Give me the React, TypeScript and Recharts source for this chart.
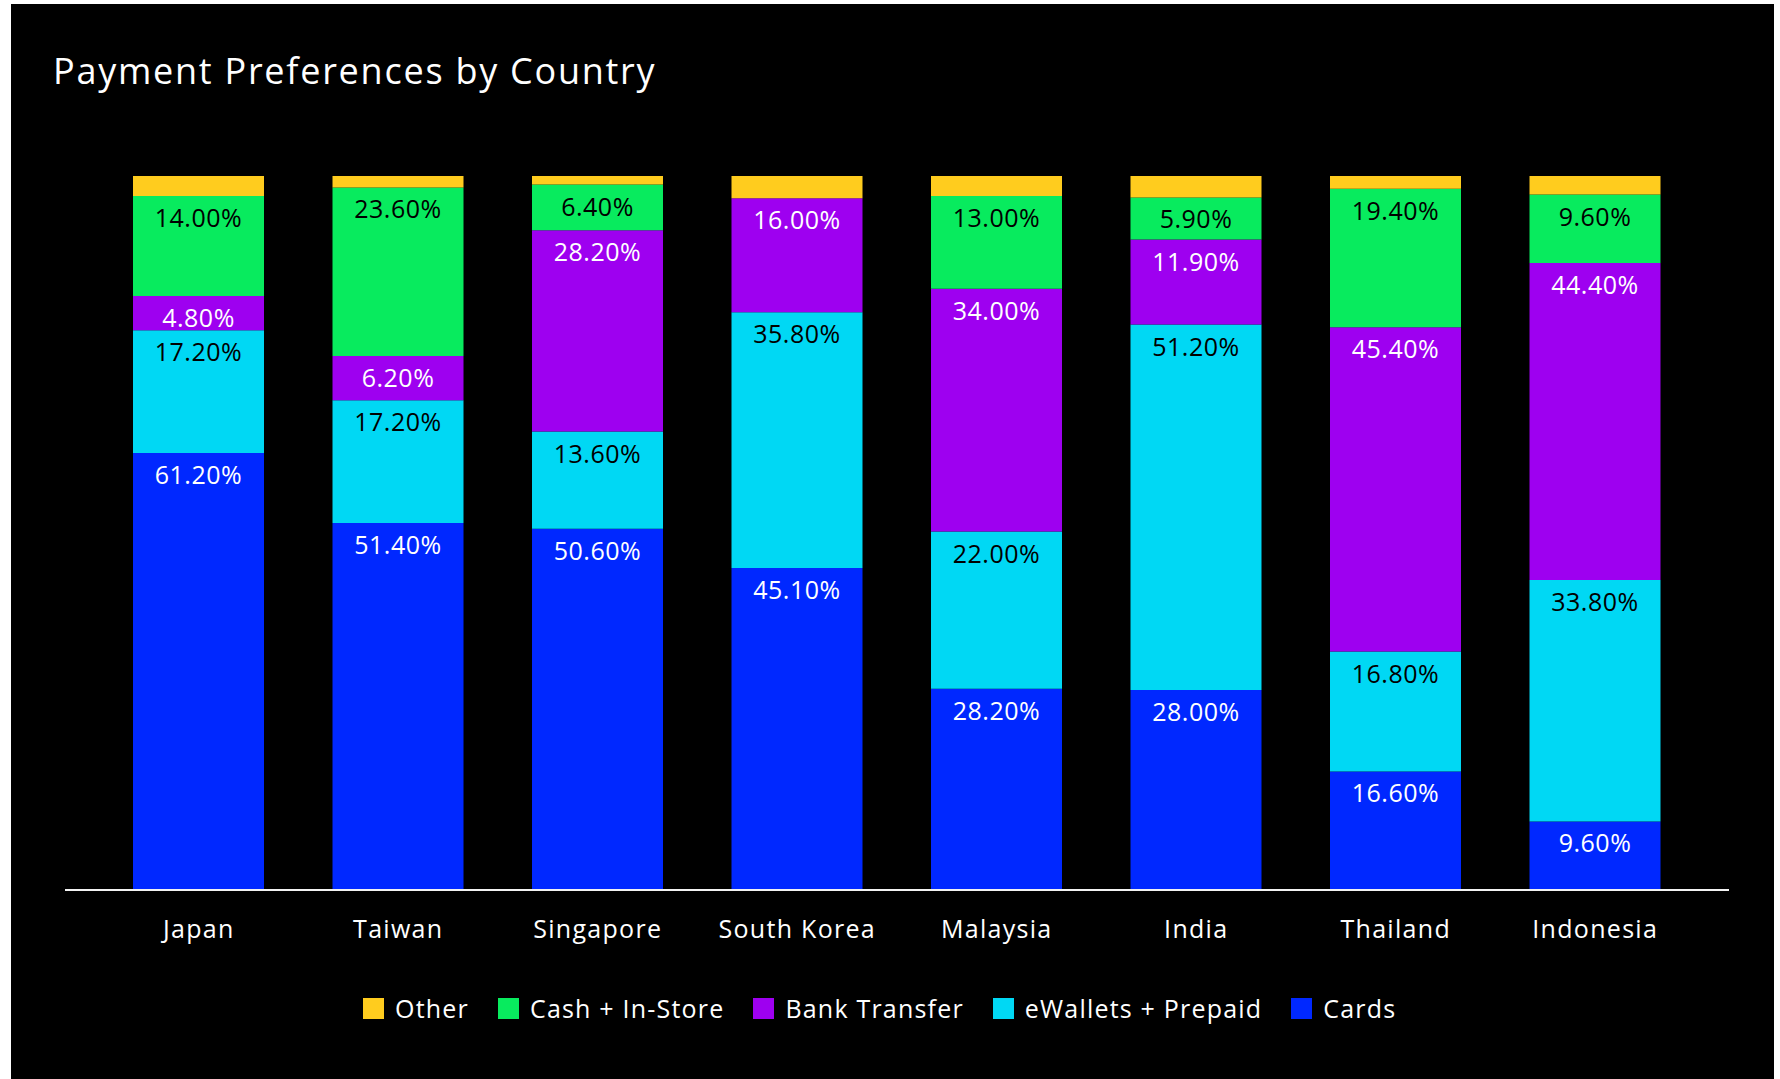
import { Bar, BarChart, LabelList, XAxis, YAxis } from "recharts"

const countries = ["Japan", "Taiwan", "Singapore", "South Korea", "Malaysia", "India", "Thailand", "Indonesia"]
const cards = [61.2, 51.4, 50.6, 45.1, 28.2, 28.0, 16.6, 9.6]
const ewallets = [17.2, 17.2, 13.6, 35.8, 22.0, 51.2, 16.8, 33.8]
const bankTransfer = [4.8, 6.2, 28.2, 16.0, 34.0, 11.9, 45.4, 44.4]
const cashInStore = [14.0, 23.6, 6.4, 0, 13.0, 5.9, 19.4, 9.6]
const other = [2.8, 1.6, 1.2, 3.1, 2.8, 3.0, 1.8, 2.6]

const FONT = "'Open Sans', sans-serif"

// bottom to top stacking order
const series = [
  { key: "cards", name: "Cards", fill: "#0028FF", text: "#ffffff", showLabel: true },
  { key: "ewallets", name: "eWallets + Prepaid", fill: "#00D8F4", text: "#000000", showLabel: true },
  { key: "bank", name: "Bank Transfer", fill: "#9E00F0", text: "#ffffff", showLabel: true },
  { key: "cash", name: "Cash + In-Store", fill: "#08EB5E", text: "#000000", showLabel: true },
  { key: "other", name: "Other", fill: "#FFCC1E", text: "#000000", showLabel: false },
]

const data = countries.map((country, i) => ({
  country,
  cards: cards[i],
  ewallets: ewallets[i],
  bank: bankTransfer[i],
  cash: cashInStore[i],
  other: other[i],
}))

const makeLabel = (color: string) => (props: any) => {
  const { x, y, width, value } = props
  if (!value) return null
  return (
    <text
      x={Number(x) + Number(width) / 2}
      y={Number(y) + 31}
      textAnchor="middle"
      fill={color}
      fontSize={25}
      fontFamily={FONT}
      letterSpacing={0.5}
    >
      {Number(value).toFixed(2)}%
    </text>
  )
}

const CountryTick = (props: any) => {
  const { x, y, payload } = props
  return (
    <text
      x={x}
      y={Number(y) + 48}
      textAnchor="middle"
      fill="#ffffff"
      fontSize={25}
      fontFamily={FONT}
      letterSpacing={1.3}
    >
      {payload.value}
    </text>
  )
}

export default function App() {
  const legendItems = [...series].reverse()
  return (
    <div style={{ position: "absolute", left: 0, top: 0, width: 1780, height: 1079, background: "#ffffff", overflow: "hidden" }}>
      <div style={{ position: "absolute", left: 11, top: 4, width: 1763, height: 1075, background: "#000000" }} />
      <div
        style={{
          position: "absolute",
          left: 53,
          top: 49,
          color: "#ffffff",
          fontFamily: FONT,
          fontSize: 36,
          lineHeight: "44px",
          letterSpacing: 1.75,
          whiteSpace: "nowrap",
        }}
      >
        Payment Preferences by Country
      </div>
      <div style={{ position: "absolute", left: 0, top: 0 }}>
        <BarChart
          width={1780}
          height={1079}
          data={data}
          margin={{ top: 176, right: 51, bottom: 129, left: 65 }}
        >
          <XAxis
            dataKey="country"
            height={60}
            padding={{ left: 34, right: 34 }}
            axisLine={{ stroke: "#f2f2f2", strokeWidth: 2 }}
            tickLine={false}
            tickSize={0}
            tickMargin={0}
            interval={0}
            tick={<CountryTick />}
          />
          <YAxis hide domain={[0, 100]} />
          {series.map((s) => (
            <Bar key={s.key} dataKey={s.key} name={s.name} stackId="a" fill={s.fill} barSize={131} isAnimationActive={false}>
              {s.showLabel && <LabelList dataKey={s.key} content={makeLabel(s.text)} />}
            </Bar>
          ))}
        </BarChart>
      </div>
      <div
        style={{
          position: "absolute",
          left: 363,
          top: 990,
          display: "flex",
          alignItems: "center",
          fontFamily: FONT,
          fontSize: 25,
          letterSpacing: 1.2,
          color: "#ffffff",
          whiteSpace: "nowrap",
        }}
      >
        {legendItems.map((s) => (
          <div key={s.key} style={{ display: "flex", alignItems: "center", marginRight: 29, height: 36 }}>
            <span style={{ display: "inline-block", width: 21, height: 21, background: s.fill, marginRight: 11 }} />
            <span>{s.name}</span>
          </div>
        ))}
      </div>
    </div>
  )
}
